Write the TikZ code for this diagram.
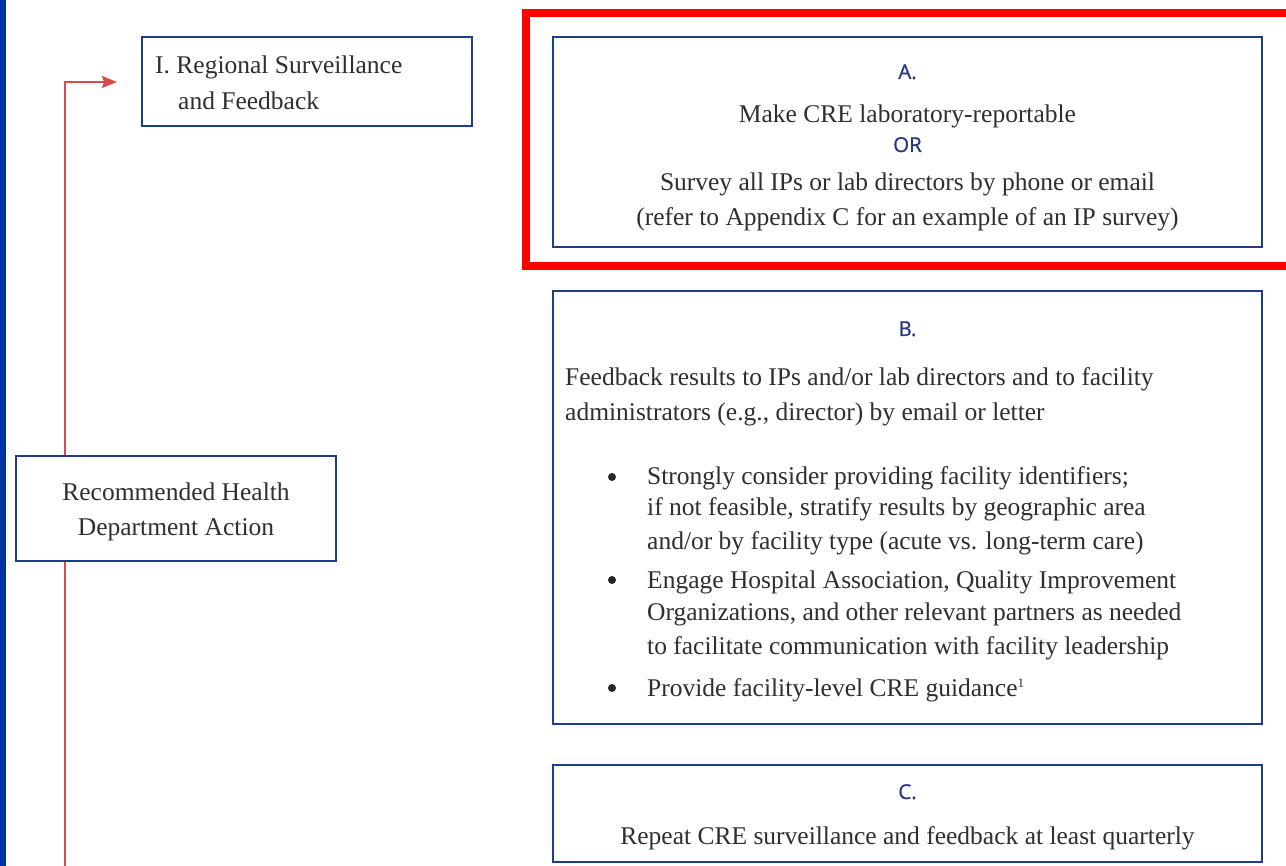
\documentclass[tikz,border=0pt]{standalone}
\usepackage{fontspec}
\setmainfont{Liberation Serif}
\newfontfamily\labelfont[FakeBold=0.8]{Open Sans}
\usetikzlibrary{arrows.meta}
\definecolor{navy}{RGB}{30,60,140}
\definecolor{stripblue}{RGB}{0,51,160}
\definecolor{linkred}{RGB}{215,75,75}
\definecolor{txt}{RGB}{50,45,50}
\definecolor{lbl}{RGB}{40,55,130}
\definecolor{hired}{RGB}{255,0,0}
\begin{document}
\begin{tikzpicture}[x=1pt,y=1pt,
  box/.style={draw=navy,line width=2pt,fill=white,rectangle,inner sep=0pt},
  body/.style={text=txt,font=\fontsize{25.5}{30}\selectfont,inner sep=0pt},
  lab/.style={text=lbl,font=\labelfont\fontsize{20.5}{24}\selectfont,inner sep=0pt},
  dot/.style={circle,fill=txt!80!black,inner sep=0pt,minimum size=8pt}]
\useasboundingbox (0,0) rectangle (1286,-866);
\clip (0,0) rectangle (1286,-866);
\fill[white] (0,0) rectangle (1286,-866);
\fill[stripblue] (0,0) rectangle (6,-866);
% connector
\coordinate (linebottom) at (65,-870);
\coordinate (arrowtip) at (117,-82);
\draw[linkred,line width=2pt,-{Stealth[length=15pt,width=12pt,inset=2pt]}] (linebottom) |- (arrowtip);
% boxes
\node[box,minimum width=330pt,minimum height=89pt] (boxI) at (307,-81.5) {};
\node[box,minimum width=320pt,minimum height=105pt] (action) at (176,-508.5) {};
\node[box,minimum width=709pt,minimum height=210pt] (boxA) at (907.5,-142) {};
\node[box,minimum width=709pt,minimum height=433pt] (boxB) at (907.5,-507.5) {};
\node[box,minimum width=709pt,minimum height=97pt] (boxC) at (907.5,-813.5) {};
% highlight
\draw[hired,line width=8pt] (526,-13) rectangle (1300,-266);
% box I text
\node[body,anchor=base west] (tI1) at (155,-74) {I. Regional Surveillance};
\node[body,anchor=base west] (tI2) at (178,-110) {and Feedback};
% action text
\node[body,anchor=base] (tR1) at (176,-501) {Recommended Health};
\node[body,anchor=base] (tR2) at (176,-536) {Department Action};
% A
\node[lab,anchor=base] (lA) at (907.5,-79) {A.};
\node[body,anchor=base] (tA1) at (907.5,-123) {Make CRE laboratory-reportable};
\node[lab,anchor=base] (lOR) at (907.5,-152) {OR};
\node[body,anchor=base] (tA2) at (907.5,-191) {Survey all IPs or lab directors by phone or email};
\node[body,anchor=base] (tA3) at (907.5,-226) {(refer to Appendix C for an example of an IP survey)};
% B
\node[lab,anchor=base] (lB) at (907.5,-336) {B.};
\node[body,anchor=base west] (tB1) at (565,-386) {Feedback results to IPs and/or lab directors and to facility};
\node[body,anchor=base west] (tB2) at (565,-421) {administrators (e.g., director) by email or letter};
\node[dot] (b1) at (612,-477) {};
\node[body,anchor=base west] (tB3) at (647,-485) {Strongly consider providing facility identifiers;};
\node[body,anchor=base west] (tB4) at (647,-516) {if not feasible, stratify results by geographic area};
\node[body,anchor=base west] (tB5) at (647,-549) {and/or by facility type (acute vs. long-term care)};
\node[dot] (b2) at (612,-580) {};
\node[body,anchor=base west] (tB6) at (647,-588) {Engage Hospital Association, Quality Improvement};
\node[body,anchor=base west] (tB7) at (647,-620) {Organizations, and other relevant partners as needed};
\node[body,anchor=base west] (tB8) at (647,-654) {to facilitate communication with facility leadership};
\node[dot] (b3) at (612,-688) {};
\node[body,anchor=base west] (tB9) at (647,-696) {Provide facility-level CRE guidance{\fontsize{13}{14}\selectfont\raisebox{9pt}{1}}};
% C
\node[lab,anchor=base] (lC) at (907.5,-799) {C.};
\node[body,anchor=base] (tC1) at (907.5,-844) {Repeat CRE surveillance and feedback at least quarterly};
\end{tikzpicture}
\end{document}
